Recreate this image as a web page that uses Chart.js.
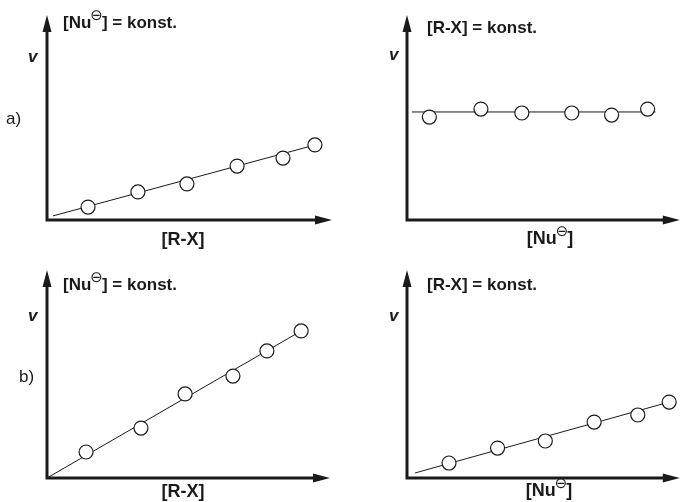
<!DOCTYPE html>
<html lang="de">
<head>
<meta charset="utf-8">
<title>Reaktionsgeschwindigkeit v</title>
<script src="https://cdn.jsdelivr.net/npm/chart.js@4.4.1/dist/chart.umd.min.js"></script>
<style>
  html, body { margin: 0; padding: 0; background: #fff; }
  #bild { position: relative; width: 688px; height: 502px; overflow: hidden; }
  canvas { position: absolute; }
  .txt {
    position: absolute; white-space: nowrap; line-height: 17px;
    font-family: "Liberation Sans", Arial, sans-serif; font-size: 17px;
    font-weight: bold; color: #1a1a1a;
  }
  .gross { font-size: 18px; }
  .mitte { transform: translateX(-50%); }
  .kursiv { font-style: italic; }
  .normal { font-weight: normal; }
  .ladung {
    position: relative; top: -8px; font-family: "DejaVu Sans", sans-serif;
    font-size: 15px; font-weight: normal; line-height: 0; margin: 0 -1px;
  }
</style>
</head>
<body>
<div id="bild">
  <canvas id="c-a1" width="344" height="250" style="left:0;top:0"></canvas>
  <canvas id="c-a2" width="344" height="250" style="left:344px;top:0"></canvas>
  <canvas id="c-b1" width="344" height="252" style="left:0;top:250px"></canvas>
  <canvas id="c-b2" width="344" height="252" style="left:344px;top:250px"></canvas>

  <div class="txt" style="left:63px;top:14px">[Nu<span class="ladung">⊖</span>] = konst.</div>
  <div class="txt" style="left:427px;top:19px">[R-X] = konst.</div>
  <div class="txt" style="left:63px;top:276px">[Nu<span class="ladung">⊖</span>] = konst.</div>
  <div class="txt" style="left:427px;top:276px">[R-X] = konst.</div>

  <div class="txt kursiv" style="left:28px;top:48px">v</div>
  <div class="txt kursiv" style="left:389px;top:46px">v</div>
  <div class="txt kursiv" style="left:28px;top:307px">v</div>
  <div class="txt kursiv" style="left:389px;top:307px">v</div>

  <div class="txt normal" style="left:6px;top:110px">a)</div>
  <div class="txt normal" style="left:19px;top:368px">b)</div>

  <div class="txt gross mitte" style="left:183px;top:231px">[R-X]</div>
  <div class="txt gross mitte" style="left:550px;top:230px">[Nu<span class="ladung">⊖</span>]</div>
  <div class="txt gross mitte" style="left:183px;top:483px">[R-X]</div>
  <div class="txt gross mitte" style="left:549px;top:482px">[Nu<span class="ladung">⊖</span>]</div>
</div>
<script>
// Messpunkte (willkürliche Einheiten, Achsen je 0..100)
// a) links: v gegen [R-X], [Nu-] konstant
const a1X = [14.4, 31.9, 49.1, 66.7, 82.8, 94.0];
const a1Y = [6.3, 13.7, 17.6, 26.3, 30.2, 36.6];
const a1GeradeX = [2.1, 94.0];
const a1GeradeY = [2.0, 36.6];

// a) rechts: v gegen [Nu-], [R-X] konstant
const a2X = [8.2, 27.1, 42.1, 60.4, 75.0, 88.2];
const a2Y = [50.2, 54.1, 52.2, 52.2, 51.2, 54.1];
const a2GeradeX = [1.8, 91.1];
const a2GeradeY = [52.7, 52.7];

// b) links: v gegen [R-X], [Nu-] konstant
const b1X = [13.8, 33.2, 48.8, 65.7, 77.7, 89.8];
const b1Y = [12.5, 24.0, 40.4, 49.0, 61.1, 70.7];
const b1GeradeX = [0, 89.8];
const b1GeradeY = [0, 70.7];

// b) rechts: v gegen [Nu-], [R-X] konstant
const b2X = [15.4, 33.2, 50.7, 68.6, 84.6, 96.1];
const b2Y = [7.2, 14.4, 17.8, 26.9, 30.3, 36.5];
const b2GeradeX = [2.9, 96.1];
const b2GeradeY = [2.4, 36.5];

const tinte = '#1a1a1a';

// Achsen mit Pfeilspitzen
const achsenPfeile = {
  id: 'achsenPfeile',
  beforeDatasetsDraw(chart) {
    const { ctx, scales } = chart;
    const x0 = scales.x.getPixelForValue(0);
    const y0 = scales.y.getPixelForValue(0);
    const xEnde = scales.x.getPixelForValue(100);
    const yEnde = scales.y.getPixelForValue(100);
    ctx.save();
    ctx.strokeStyle = tinte;
    ctx.fillStyle = tinte;
    ctx.lineWidth = 3;
    ctx.beginPath();
    ctx.moveTo(x0, y0 + 1.5);
    ctx.lineTo(x0, yEnde + 12);
    ctx.moveTo(x0 - 1.5, y0);
    ctx.lineTo(xEnde - 12, y0);
    ctx.stroke();
    ctx.beginPath();
    ctx.moveTo(x0, yEnde);
    ctx.lineTo(x0 - 4.5, yEnde + 17);
    ctx.lineTo(x0 + 4.5, yEnde + 17);
    ctx.closePath();
    ctx.moveTo(xEnde, y0);
    ctx.lineTo(xEnde - 17, y0 - 4.5);
    ctx.lineTo(xEnde - 17, y0 + 4.5);
    ctx.closePath();
    ctx.fill();
    ctx.restore();
  }
};

function punkte(xs, ys) {
  return xs.map((x, i) => ({ x: x, y: ys[i] }));
}

function zeichneDiagramm(id, xs, ys, gx, gy, abstand) {
  new Chart(document.getElementById(id), {
    type: 'scatter',
    data: {
      datasets: [
        {
          data: punkte(xs, ys),
          pointRadius: 7,
          pointBackgroundColor: '#fff',
          pointBorderColor: tinte,
          pointBorderWidth: 1.2,
          showLine: false,
          order: 0
        },
        {
          type: 'line',
          data: punkte(gx, gy),
          borderColor: tinte,
          borderWidth: 1,
          pointRadius: 0,
          fill: false,
          order: 1
        }
      ]
    },
    options: {
      responsive: false,
      animation: false,
      layout: { padding: abstand },
      plugins: { legend: { display: false }, tooltip: { enabled: false } },
      scales: {
        x: { type: 'linear', min: 0, max: 100, display: false },
        y: { type: 'linear', min: 0, max: 100, display: false }
      }
    },
    plugins: [achsenPfeile]
  });
}

zeichneDiagramm('c-a1', a1X, a1Y, a1GeradeX, a1GeradeY, { left: 47, top: 15, right: 12, bottom: 30 });
zeichneDiagramm('c-a2', a2X, a2Y, a2GeradeX, a2GeradeY, { left: 63, top: 15, right: 1, bottom: 30 });
zeichneDiagramm('c-b1', b1X, b1Y, b1GeradeX, b1GeradeY, { left: 47, top: 20, right: 14, bottom: 24 });
zeichneDiagramm('c-b2', b2X, b2Y, b2GeradeX, b2GeradeY, { left: 63, top: 20, right: 1, bottom: 24 });
</script>
</body>
</html>
